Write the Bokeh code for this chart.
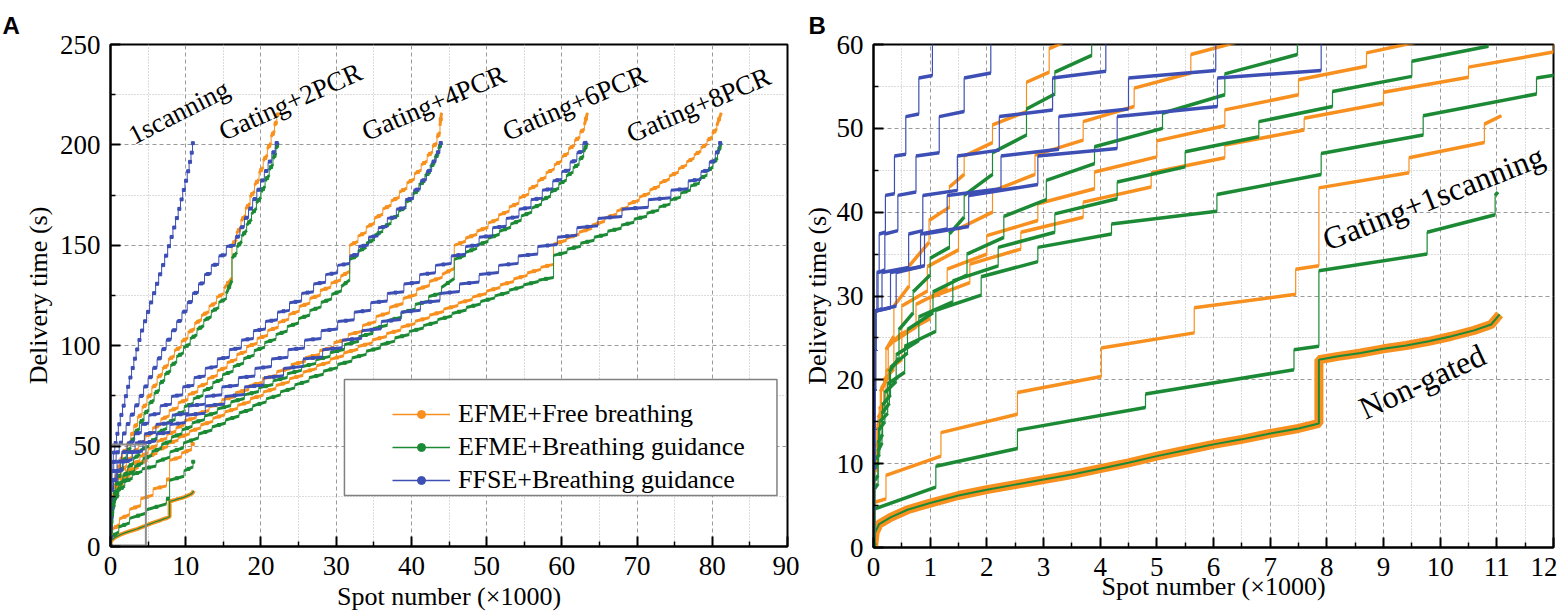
from bokeh.plotting import figure
from bokeh.models import FixedTicker, Label, Legend, LegendItem, BoxAnnotation, Title
from bokeh.layouts import row
from bokeh.embed import file_html
from bokeh.resources import INLINE

# ---------------- data (x: spot number x1000, y: delivery time s) ----------------
# each plateau: (x_start, x_end, y_start, y_end)

# Non-gated (continuous)
ng_x = [0, 0.03, 0.1, 0.3, 0.6, 1.0, 1.5, 2.0, 2.5, 3.0, 3.5, 4.0, 4.5, 5.0, 5.5, 6.0, 6.5, 7.0, 7.5,
        7.86, 7.86, 8.2, 8.6, 9.0, 9.4, 9.8, 10.2, 10.6, 10.9, 11.05]
ng_y = [0, 1.8, 2.8, 3.6, 4.5, 5.3, 6.2, 6.9, 7.5, 8.1, 8.7, 9.4, 10.1, 10.9, 11.6, 12.3, 12.9, 13.6, 14.2,
        14.8, 22.4, 22.8, 23.2, 23.7, 24.1, 24.6, 25.2, 25.9, 26.6, 27.8]

# Gating + 1 scanning
o1 = [(0.00, 0.02, 0.0, 0.3), (0.02, 0.22, 5.4, 5.8), (0.22, 1.19, 8.6, 10.9), (1.19, 2.54, 13.7, 15.9),
      (2.54, 4.02, 18.5, 20.4), (4.02, 5.66, 23.8, 25.6), (5.66, 7.45, 28.6, 30.2), (7.45, 7.86, 33.2, 33.6),
      (7.86, 9.45, 42.9, 44.7), (9.45, 10.78, 46.5, 48.3), (10.78, 11.08, 50.5, 51.5)]
g1 = [(0.00, 0.02, 0.0, 0.3), (0.02, 1.10, 4.6, 7.2), (1.10, 2.54, 9.7, 11.8), (2.54, 4.80, 14.0, 16.7),
      (4.80, 7.42, 18.3, 21.2), (7.42, 7.86, 23.6, 24.0), (7.86, 9.77, 33.0, 35.0), (9.77, 10.97, 37.6, 39.7),
      (10.97, 11.02, 42.0, 42.4)]

# FFSE common start
b0 = [(0.000, 0.008, 0.0, 0.1), (0.008, 0.015, 4.7, 4.8), (0.015, 0.022, 9.4, 9.5),
      (0.022, 0.029, 14.1, 14.2), (0.029, 0.036, 18.8, 18.9), (0.036, 0.040, 23.5, 23.6)]

# FFSE 1 scanning
b1 = [(0.04, 0.06, 28.2, 28.3), (0.06, 0.10, 32.8, 32.9), (0.10, 0.21, 37.4, 37.6), (0.21, 0.37, 42.0, 42.2),
      (0.37, 0.57, 46.7, 46.9), (0.57, 0.80, 51.4, 51.7), (0.80, 1.04, 56.0, 56.3), (1.04, 1.30, 60.7, 61.0),
      (1.30, 1.60, 65.4, 65.7), (1.60, 1.90, 70.0, 70.3), (1.90, 2.20, 74.7, 75.0), (2.20, 2.50, 79.4, 79.7),
      (2.50, 2.80, 84.0, 84.3), (2.80, 3.10, 88.7, 89.0), (3.10, 3.40, 93.4, 93.7), (3.40, 3.70, 98.0, 98.3),
      (3.70, 4.00, 102.7, 103.0), (4.00, 4.40, 107.4, 107.7), (4.40, 4.80, 112.0, 112.3), (4.80, 5.20, 116.7, 117.0),
      (5.20, 5.60, 121.4, 121.7), (5.60, 6.00, 126.0, 126.3), (6.00, 6.40, 130.7, 131.0), (6.40, 6.80, 135.4, 135.7),
      (6.80, 7.20, 140.0, 140.3), (7.20, 7.60, 144.7, 145.0), (7.60, 7.95, 149.4, 149.7), (7.95, 8.30, 154.0, 154.3),
      (8.30, 8.65, 158.7, 159.0), (8.65, 9.00, 163.4, 163.7), (9.00, 9.30, 168.0, 168.3), (9.30, 9.60, 172.7, 173.0),
      (9.60, 9.90, 177.4, 177.7), (9.90, 10.20, 182.0, 182.3), (10.20, 10.45, 186.7, 187.0), (10.45, 10.70, 191.4, 191.7),
      (10.70, 10.90, 196.0, 196.3), (10.90, 11.00, 200.7, 201.0)]

# Gating + 2PCR
o2 = [(0.00, 0.02, 0.0, 0.5), (0.02, 0.06, 9.0, 9.6), (0.06, 0.12, 14.0, 15.0), (0.12, 0.22, 18.6, 19.8),
      (0.22, 0.36, 23.6, 25.2), (0.36, 0.63, 28.8, 31.2), (0.63, 0.98, 33.6, 36.4), (0.98, 1.34, 39.0, 40.6),
      (1.34, 1.60, 43.0, 44.5), (1.60, 2.10, 46.7, 48.3), (2.10, 2.70, 50.4, 52.0), (2.70, 3.10, 55.5, 56.7),
      (3.10, 3.60, 59.5, 61.0), (3.60, 4.20, 64.0, 66.0), (4.20, 4.85, 69.0, 71.0), (4.85, 5.50, 74.0, 76.0),
      (5.50, 6.20, 79.0, 81.0), (6.20, 6.90, 84.0, 86.0), (6.90, 7.70, 88.5, 90.5), (7.70, 8.50, 93.0, 95.0),
      (8.50, 9.40, 97.5, 99.5), (9.40, 10.30, 102.0, 104.0), (10.30, 11.20, 106.5, 108.5), (11.20, 12.10, 111.0, 113.0),
      (12.10, 13.10, 115.0, 117.0), (13.10, 14.10, 119.5, 121.5), (14.10, 15.10, 124.0, 126.0), (15.10, 16.15, 128.5, 133.8),
      (16.15, 16.75, 150.0, 153.0), (16.75, 17.35, 156.0, 159.0), (17.35, 17.95, 162.0, 165.0), (17.95, 18.55, 168.0, 171.0),
      (18.55, 19.15, 174.0, 177.0), (19.15, 19.75, 180.0, 183.0), (19.75, 20.30, 186.0, 189.0), (20.30, 20.85, 192.0, 195.0),
      (20.85, 21.35, 198.0, 201.0), (21.35, 21.80, 204.0, 207.0), (21.80, 22.10, 209.5, 212.0), (22.10, 22.30, 214.0, 216.0)]
g2 = [(0.00, 0.02, 0.0, 0.5), (0.02, 0.08, 7.0, 7.6), (0.08, 0.15, 11.5, 12.5), (0.15, 0.28, 16.0, 17.2),
      (0.28, 0.45, 21.0, 22.6), (0.45, 0.70, 26.0, 28.0), (0.70, 1.00, 30.5, 32.5), (1.00, 1.34, 34.5, 35.8),
      (1.34, 1.60, 37.4, 39.4), (1.60, 2.10, 42.0, 44.5), (2.10, 2.70, 47.1, 49.2), (2.70, 3.20, 52.3, 54.1),
      (3.20, 3.85, 56.7, 58.7), (3.85, 4.45, 61.5, 63.5), (4.45, 5.10, 66.0, 68.0), (5.10, 5.80, 71.0, 73.0),
      (5.80, 6.50, 76.0, 78.0), (6.50, 7.20, 81.0, 83.0), (7.20, 8.00, 85.5, 87.5), (8.00, 8.80, 90.0, 92.0),
      (8.80, 9.70, 94.5, 96.5), (9.70, 10.60, 99.0, 101.0), (10.60, 11.50, 103.5, 105.5), (11.50, 12.40, 108.0, 110.0),
      (12.40, 13.40, 112.5, 114.5), (13.40, 14.40, 117.0, 119.0), (14.40, 15.40, 121.5, 123.5), (15.40, 16.15, 126.0, 132.5),
      (16.15, 16.80, 143.5, 146.5), (16.80, 17.45, 149.0, 152.0), (17.45, 18.10, 154.5, 157.5), (18.10, 18.75, 160.0, 163.0),
      (18.75, 19.40, 165.5, 168.5), (19.40, 20.00, 171.0, 174.0), (20.00, 20.55, 176.5, 179.5), (20.55, 21.10, 182.0, 185.0),
      (21.10, 21.60, 187.5, 190.5), (21.60, 22.00, 193.0, 196.0), (22.00, 22.30, 198.0, 201.0)]
b2 = [(0.04, 0.08, 28.2, 28.4), (0.08, 0.20, 32.8, 33.1), (0.20, 0.43, 37.4, 37.8), (0.43, 0.75, 42.0, 42.4),
      (0.75, 1.16, 46.7, 47.1), (1.16, 1.60, 51.4, 52.0), (1.60, 2.07, 56.0, 56.6), (2.07, 2.60, 60.7, 61.3),
      (2.60, 3.20, 65.4, 66.0), (3.20, 3.80, 70.0, 70.6), (3.80, 4.40, 74.7, 75.3), (4.40, 5.00, 79.4, 80.0),
      (5.00, 5.60, 84.0, 84.6), (5.60, 6.20, 88.7, 89.3), (6.20, 6.80, 93.4, 94.0), (6.80, 7.40, 98.0, 98.6),
      (7.40, 8.10, 102.7, 103.3), (8.10, 8.80, 107.4, 108.0), (8.80, 9.50, 112.0, 112.6), (9.50, 10.20, 116.7, 117.3),
      (10.20, 10.90, 121.4, 122.0), (10.90, 11.70, 126.0, 126.6), (11.70, 12.50, 130.7, 131.3), (12.50, 13.40, 135.4, 136.0),
      (13.40, 14.40, 140.0, 140.6), (14.40, 15.40, 144.7, 145.3), (15.40, 16.60, 149.4, 150.0), (16.60, 17.20, 154.0, 154.6),
      (17.20, 17.80, 158.7, 159.3), (17.80, 18.35, 163.4, 164.0), (18.35, 18.90, 168.0, 168.6), (18.90, 19.45, 172.7, 173.3),
      (19.45, 19.95, 177.4, 178.0), (19.95, 20.45, 182.0, 182.6), (20.45, 20.95, 186.7, 187.3), (20.95, 21.45, 191.4, 192.0),
      (21.45, 21.90, 196.0, 196.6), (21.90, 22.30, 200.7, 201.2)]

# Gating + 4PCR
o4 = [(0.00, 0.02, 0.0, 0.5), (0.02, 0.07, 10.0, 10.6), (0.07, 0.14, 14.5, 15.5), (0.14, 0.26, 19.0, 20.3),
      (0.26, 0.50, 24.0, 25.6), (0.50, 0.95, 28.8, 30.6), (0.95, 1.50, 33.5, 35.5), (1.50, 2.10, 38.0, 40.0),
      (2.10, 2.85, 42.5, 44.5), (2.85, 3.70, 46.8, 48.6), (3.70, 4.60, 50.8, 52.6), (4.60, 5.60, 54.8, 56.6),
      (5.60, 6.70, 58.8, 60.8), (6.70, 7.80, 63.3, 65.0), (7.80, 9.00, 67.5, 69.2), (9.00, 10.30, 71.5, 73.2),
      (10.30, 11.60, 75.5, 77.2), (11.60, 12.90, 79.5, 81.2), (12.90, 14.20, 83.5, 85.2), (14.20, 15.50, 87.5, 89.2),
      (15.50, 16.80, 91.5, 93.2), (16.80, 18.10, 95.5, 97.2), (18.10, 19.50, 99.5, 101.2), (19.50, 20.90, 103.5, 105.2),
      (20.90, 22.30, 107.5, 109.2), (22.30, 23.70, 111.5, 113.2), (23.70, 25.10, 115.5, 117.2), (25.10, 26.50, 119.5, 121.2),
      (26.50, 27.90, 123.5, 125.2), (27.90, 29.30, 127.5, 129.2), (29.30, 30.60, 131.0, 132.7), (30.60, 31.80, 134.5, 137.0),
      (31.80, 32.90, 150.0, 152.0), (32.90, 34.00, 154.5, 156.5), (34.00, 35.10, 159.0, 161.0), (35.10, 36.20, 163.5, 165.5),
      (36.20, 37.30, 168.0, 170.0), (37.30, 38.40, 172.0, 174.0), (38.40, 39.40, 176.5, 178.5), (39.40, 40.40, 181.0, 183.0),
      (40.40, 41.30, 185.5, 187.5), (41.30, 42.10, 190.0, 192.0), (42.10, 42.80, 194.5, 196.5), (42.80, 43.40, 199.0, 201.0),
      (43.40, 43.80, 203.5, 206.5), (43.80, 44.00, 209.5, 216.0)]
g4 = [(0.00, 0.02, 0.0, 0.5), (0.02, 0.08, 8.0, 8.6), (0.08, 0.16, 12.5, 13.5), (0.16, 0.30, 17.0, 18.2),
      (0.30, 0.60, 21.5, 23.2), (0.60, 1.05, 26.0, 28.0), (1.05, 1.65, 30.5, 32.5), (1.65, 2.30, 35.0, 37.0),
      (2.30, 3.05, 39.5, 41.5), (3.05, 3.90, 43.8, 45.8), (3.90, 5.10, 47.8, 50.0), (5.10, 6.20, 51.8, 54.0),
      (6.20, 7.48, 56.5, 58.8), (7.48, 8.60, 61.5, 63.3), (8.60, 9.80, 65.5, 67.3), (9.80, 11.00, 69.5, 71.3),
      (11.00, 12.30, 73.5, 75.3), (12.30, 13.60, 77.5, 79.3), (13.60, 14.90, 81.5, 83.3), (14.90, 16.30, 85.5, 87.3),
      (16.30, 17.70, 89.5, 91.3), (17.70, 19.10, 93.5, 95.3), (19.10, 20.50, 97.5, 99.3), (20.50, 22.00, 101.5, 103.3),
      (22.00, 23.50, 105.5, 107.3), (23.50, 25.00, 109.5, 111.3), (25.00, 26.50, 113.5, 115.3), (26.50, 28.00, 117.5, 119.3),
      (28.00, 29.40, 121.5, 123.3), (29.40, 30.70, 125.5, 127.3), (30.70, 31.80, 129.5, 132.8),
      (31.80, 32.90, 143.0, 145.0), (32.90, 34.00, 147.0, 149.0), (34.00, 35.10, 151.0, 153.0), (35.10, 36.20, 155.0, 157.0),
      (36.20, 37.30, 159.0, 161.0), (37.30, 38.30, 163.0, 165.0), (38.30, 39.30, 167.0, 169.0), (39.30, 40.20, 171.5, 173.5),
      (40.20, 41.00, 175.5, 177.5), (41.00, 41.80, 180.0, 182.0), (41.80, 42.50, 184.5, 186.5), (42.50, 43.10, 189.0, 191.0),
      (43.10, 43.60, 193.5, 195.5), (43.60, 44.00, 198.0, 201.0)]
b4 = [(0.04, 0.15, 28.2, 28.5), (0.15, 0.62, 32.8, 33.4), (0.62, 0.87, 37.4, 37.8), (0.87, 1.48, 42.0, 42.6),
      (1.48, 2.22, 46.7, 47.4), (2.22, 3.16, 51.4, 52.2), (3.16, 4.10, 56.0, 56.8), (4.10, 5.10, 60.7, 61.5),
      (5.10, 6.60, 65.4, 66.3), (6.60, 8.10, 70.0, 70.9), (8.10, 9.60, 74.7, 75.6), (9.60, 11.10, 79.4, 80.3),
      (11.10, 12.60, 84.0, 84.9), (12.60, 14.20, 88.7, 89.6), (14.20, 15.80, 93.4, 94.3), (15.80, 17.40, 98.0, 98.9),
      (17.40, 19.00, 102.7, 103.6), (19.00, 20.60, 107.4, 108.3), (20.60, 22.20, 112.0, 112.9), (22.20, 23.80, 116.7, 117.6),
      (23.80, 25.40, 121.4, 122.3), (25.40, 27.00, 126.0, 126.9), (27.00, 28.60, 130.7, 131.6), (28.60, 30.20, 135.4, 136.3),
      (30.20, 31.80, 140.0, 140.9), (31.80, 33.00, 144.7, 145.5), (33.00, 34.30, 149.4, 150.1), (34.30, 35.60, 154.0, 154.7),
      (35.60, 36.80, 158.7, 159.4), (36.80, 38.00, 163.4, 164.1), (38.00, 39.20, 168.0, 168.7), (39.20, 40.30, 172.7, 173.4),
      (40.30, 41.20, 177.4, 178.1), (41.20, 42.00, 182.0, 182.7), (42.00, 42.70, 186.7, 187.4), (42.70, 43.30, 191.4, 192.1),
      (43.30, 43.80, 196.0, 196.7), (43.80, 44.00, 200.7, 201.2)]

# Gating + 6PCR
o6 = [(0.00, 0.02, 0.0, 0.5), (0.02, 0.08, 11.0, 11.6), (0.08, 0.18, 15.5, 16.5), (0.18, 0.36, 20.0, 21.3),
      (0.36, 0.75, 24.6, 26.3), (0.75, 1.30, 29.0, 30.9), (1.30, 2.00, 33.2, 35.0), (2.00, 2.90, 37.2, 39.0),
      (2.90, 3.90, 41.0, 42.8), (3.90, 5.00, 44.8, 46.6), (5.00, 6.20, 48.5, 50.3), (6.20, 7.50, 52.2, 54.0),
      (7.50, 8.70, 55.8, 57.4), (8.70, 9.80, 59.0, 60.6), (9.80, 11.40, 62.5, 64.2), (11.40, 13.10, 66.0, 67.7),
      (13.10, 14.80, 69.5, 71.2), (14.80, 16.60, 73.0, 74.7), (16.60, 18.40, 76.5, 78.2), (18.40, 20.20, 80.0, 81.7),
      (20.20, 22.10, 83.5, 85.2), (22.10, 24.00, 87.0, 88.7), (24.00, 25.90, 90.5, 92.2), (25.90, 27.80, 94.0, 95.7),
      (27.80, 29.70, 97.5, 99.2), (29.70, 31.60, 101.5, 103.2), (31.60, 33.50, 105.5, 107.2), (33.50, 35.30, 110.0, 112.0),
      (35.30, 37.10, 114.5, 116.5), (37.10, 38.90, 119.0, 121.0), (38.90, 40.70, 123.5, 125.5), (40.70, 42.40, 128.0, 130.0),
      (42.40, 44.10, 132.0, 134.0), (44.10, 45.70, 135.5, 138.5),
      (45.70, 47.20, 150.0, 152.0), (47.20, 48.70, 153.5, 155.5), (48.70, 50.20, 157.0, 159.0), (50.20, 51.60, 161.0, 163.0),
      (51.60, 53.00, 165.0, 167.0), (53.00, 54.30, 169.0, 171.0), (54.30, 55.60, 173.5, 175.5), (55.60, 56.80, 178.0, 180.0),
      (56.80, 57.90, 182.0, 184.0), (57.90, 59.00, 186.0, 188.0), (59.00, 60.00, 190.0, 192.0), (60.00, 60.90, 194.0, 196.0),
      (60.90, 61.70, 198.0, 200.0), (61.70, 62.40, 202.0, 204.0), (62.40, 63.00, 206.0, 208.0), (63.00, 63.40, 210.0, 216.0)]
g6 = [(0.00, 0.02, 0.0, 0.5), (0.02, 0.09, 9.5, 10.1), (0.09, 0.20, 14.0, 15.0), (0.20, 0.40, 18.5, 19.8),
      (0.40, 0.80, 23.0, 24.7), (0.80, 1.40, 27.5, 29.3), (1.40, 2.20, 31.8, 33.6), (2.20, 3.20, 35.8, 37.6),
      (3.20, 4.30, 39.8, 41.6), (4.30, 5.50, 43.6, 45.4), (5.50, 6.80, 47.2, 49.0), (6.80, 8.10, 50.8, 52.6),
      (8.10, 9.50, 54.4, 56.2), (9.50, 10.85, 58.0, 59.8), (10.85, 12.50, 61.5, 63.2), (12.50, 14.20, 65.0, 66.7),
      (14.20, 16.00, 68.5, 70.2), (16.00, 17.80, 72.0, 73.7), (17.80, 19.70, 75.5, 77.2), (19.70, 21.60, 79.0, 80.7),
      (21.60, 23.50, 82.5, 84.2), (23.50, 25.40, 86.0, 87.7), (25.40, 27.30, 89.5, 91.2), (27.30, 29.20, 93.0, 94.7),
      (29.20, 31.10, 96.5, 98.2), (31.10, 33.00, 100.5, 102.2), (33.00, 34.90, 104.5, 106.2), (34.90, 36.80, 108.5, 110.2),
      (36.80, 38.70, 112.5, 114.2), (38.70, 40.50, 116.5, 118.2), (40.50, 42.30, 120.5, 122.2), (42.30, 44.00, 124.5, 126.2),
      (44.00, 45.70, 129.0, 133.5),
      (45.70, 47.20, 143.0, 145.0), (47.20, 48.70, 146.5, 148.5), (48.70, 50.20, 150.0, 152.0), (50.20, 51.70, 153.5, 155.5),
      (51.70, 53.20, 157.0, 159.0), (53.20, 54.60, 160.5, 162.5), (54.60, 56.00, 164.5, 166.5), (56.00, 57.30, 168.5, 170.5),
      (57.30, 58.50, 172.5, 174.5), (58.50, 59.60, 176.5, 178.5), (59.60, 60.60, 180.5, 182.5), (60.60, 61.50, 184.5, 186.5),
      (61.50, 62.30, 188.5, 190.5), (62.30, 62.90, 192.5, 194.5), (62.90, 63.40, 196.5, 201.0)]
b6 = [(0.04, 0.30, 28.2, 28.6), (0.30, 0.83, 32.8, 33.5), (0.83, 1.30, 37.4, 38.0), (1.30, 2.25, 42.0, 42.8),
      (2.25, 3.27, 46.7, 47.5), (3.27, 4.50, 51.4, 52.3), (4.50, 6.04, 56.0, 56.9), (6.04, 8.20, 60.7, 61.6),
      (8.20, 10.40, 65.4, 66.3), (10.40, 12.60, 70.0, 70.9), (12.60, 14.80, 74.7, 75.6), (14.80, 17.00, 79.4, 80.3),
      (17.00, 19.20, 84.0, 84.9), (19.20, 21.40, 88.7, 89.6), (21.40, 23.60, 93.4, 94.3), (23.60, 25.80, 98.0, 98.9),
      (25.80, 28.00, 102.7, 103.6), (28.00, 30.20, 107.4, 108.3), (30.20, 32.40, 112.0, 112.9), (32.40, 34.60, 116.7, 117.6),
      (34.60, 36.80, 121.4, 122.3), (36.80, 39.00, 126.0, 126.9), (39.00, 41.10, 130.7, 131.6), (41.10, 43.20, 135.4, 136.3),
      (43.20, 45.30, 140.0, 140.9), (45.30, 47.20, 144.7, 145.5), (47.20, 49.00, 149.4, 150.2), (49.00, 50.80, 154.0, 154.8),
      (50.80, 52.60, 158.7, 159.5), (52.60, 54.30, 163.4, 164.2), (54.30, 55.90, 168.0, 168.8), (55.90, 57.40, 172.7, 173.5),
      (57.40, 58.80, 177.4, 178.2), (58.80, 60.00, 182.0, 182.8), (60.00, 61.10, 186.7, 187.5), (61.10, 62.00, 191.4, 192.2),
      (62.00, 62.80, 196.0, 196.8), (62.80, 63.40, 200.7, 201.3)]

# Gating + 8PCR
o8 = [(0.00, 0.02, 0.0, 0.5), (0.02, 0.10, 12.0, 12.6), (0.10, 0.22, 16.5, 17.5), (0.22, 0.50, 21.0, 22.4),
      (0.50, 1.00, 25.5, 27.3), (1.00, 1.70, 29.8, 31.6), (1.70, 2.60, 33.8, 35.6), (2.60, 3.70, 37.6, 39.4),
      (3.70, 4.90, 41.2, 43.0), (4.90, 6.20, 44.7, 46.5), (6.20, 7.60, 48.0, 49.8), (7.60, 9.00, 51.2, 53.0),
      (9.00, 10.50, 54.3, 56.1), (10.50, 12.00, 57.3, 59.1), (12.00, 13.60, 60.5, 62.3), (13.60, 15.20, 63.8, 65.6),
      (15.20, 16.90, 67.0, 68.8), (16.90, 18.60, 70.3, 72.1), (18.60, 20.30, 73.6, 75.4), (20.30, 22.00, 76.9, 78.7),
      (22.00, 23.80, 80.2, 82.0), (23.80, 25.60, 83.5, 85.3), (25.60, 27.40, 86.8, 88.6), (27.40, 29.20, 90.0, 91.8),
      (29.20, 31.00, 93.2, 95.0), (31.00, 32.90, 96.4, 98.2), (32.90, 34.80, 99.6, 101.4), (34.80, 36.70, 102.8, 104.6),
      (36.70, 38.60, 106.0, 107.8), (38.60, 40.50, 109.2, 111.0), (40.50, 42.40, 112.2, 114.0), (42.40, 44.30, 115.2, 117.0),
      (44.30, 46.20, 118.2, 120.0), (46.20, 48.10, 121.2, 123.0), (48.10, 50.00, 124.2, 126.0), (50.00, 51.80, 127.2, 129.0),
      (51.80, 53.60, 130.2, 132.0), (53.60, 55.40, 133.2, 135.0), (55.40, 57.20, 136.2, 138.0), (57.20, 58.90, 139.0, 140.5),
      (58.90, 60.60, 150.5, 152.5), (60.60, 62.30, 153.5, 155.5), (62.30, 64.00, 156.5, 158.5), (64.00, 65.70, 160.0, 162.0),
      (65.70, 67.30, 163.5, 165.5), (67.30, 68.80, 167.0, 169.0), (68.80, 70.30, 170.5, 172.5), (70.30, 71.70, 174.0, 176.0),
      (71.70, 73.00, 177.5, 179.5), (73.00, 74.30, 181.0, 183.0), (74.30, 75.50, 184.5, 186.5), (75.50, 76.60, 188.0, 190.0),
      (76.60, 77.60, 191.5, 193.5), (77.60, 78.50, 195.0, 197.0), (78.50, 79.30, 198.5, 200.5), (79.30, 80.00, 202.0, 204.0),
      (80.00, 80.60, 205.5, 208.0), (80.60, 81.20, 209.5, 216.0)]
g8 = [(0.00, 0.02, 0.0, 0.5), (0.02, 0.11, 10.5, 11.1), (0.11, 0.25, 15.0, 16.0), (0.25, 0.55, 19.5, 20.9),
      (0.55, 1.10, 24.0, 25.8), (1.10, 1.90, 28.3, 30.1), (1.90, 2.90, 32.3, 34.1), (2.90, 4.20, 35.8, 37.4),
      (4.20, 6.06, 38.6, 40.1), (6.06, 7.90, 42.1, 44.5), (7.90, 9.70, 47.0, 49.2), (9.70, 11.70, 51.5, 54.1),
      (11.70, 13.50, 56.0, 58.0), (13.50, 15.30, 59.5, 61.5), (15.30, 17.10, 63.0, 65.0), (17.10, 18.90, 66.5, 68.5),
      (18.90, 20.70, 70.0, 72.0), (20.70, 22.60, 73.5, 75.5), (22.60, 24.50, 77.0, 79.0), (24.50, 26.40, 80.5, 82.5),
      (26.40, 28.30, 84.0, 85.8), (28.30, 30.20, 87.3, 89.1), (30.20, 32.10, 90.6, 92.4), (32.10, 34.00, 93.9, 95.7),
      (34.00, 35.90, 97.2, 99.0), (35.90, 37.80, 100.5, 102.3), (37.80, 39.70, 103.8, 105.6), (39.70, 41.60, 107.0, 108.8),
      (41.60, 43.50, 110.0, 111.8), (43.50, 45.40, 113.0, 114.8), (45.40, 47.30, 116.0, 117.8), (47.30, 49.20, 119.0, 120.8),
      (49.20, 51.10, 122.0, 123.8), (51.10, 53.00, 124.8, 126.6), (53.00, 54.90, 127.6, 129.4), (54.90, 56.90, 130.2, 132.0),
      (56.90, 58.90, 132.6, 134.0),
      (58.90, 60.70, 145.0, 146.5), (60.70, 62.50, 148.0, 149.5), (62.50, 64.30, 151.0, 152.5), (64.30, 66.10, 154.0, 155.5),
      (66.10, 67.90, 157.0, 158.5), (67.90, 69.60, 160.0, 161.5), (69.60, 71.30, 163.0, 164.5), (71.30, 72.90, 166.0, 167.5),
      (72.90, 74.40, 169.0, 170.5), (74.40, 75.80, 172.5, 174.0), (75.80, 77.10, 176.0, 177.5), (77.10, 78.30, 179.5, 181.0),
      (78.30, 79.30, 183.0, 185.0), (79.30, 80.10, 187.0, 189.0), (80.10, 80.70, 191.0, 193.5), (80.70, 81.20, 195.5, 201.0)]
b8 = [(0.04, 0.40, 28.2, 28.8), (0.40, 0.90, 32.8, 33.6), (0.90, 1.68, 37.4, 38.3), (1.68, 2.90, 42.0, 43.3),
      (2.90, 4.30, 46.7, 47.6), (4.30, 6.07, 51.4, 52.6), (6.07, 7.90, 56.0, 56.9), (7.90, 10.00, 60.7, 61.7),
      (10.00, 12.60, 65.4, 66.4), (12.60, 15.20, 70.0, 71.0), (15.20, 17.80, 74.7, 75.7), (17.80, 20.40, 79.4, 80.4),
      (20.40, 23.00, 84.0, 85.0), (23.00, 25.60, 88.7, 89.7), (25.60, 28.20, 93.4, 94.4), (28.20, 30.80, 98.0, 99.0),
      (30.80, 33.40, 102.7, 103.7), (33.40, 36.00, 107.4, 108.4), (36.00, 38.60, 112.0, 113.0), (38.60, 41.20, 116.7, 117.7),
      (41.20, 43.80, 121.4, 122.4), (43.80, 46.40, 126.0, 127.0), (46.40, 49.00, 130.7, 131.7), (49.00, 51.60, 135.4, 136.4),
      (51.60, 54.20, 140.0, 141.0), (54.20, 56.80, 144.7, 145.7), (56.80, 59.40, 149.4, 150.4), (59.40, 62.00, 154.0, 155.0),
      (62.00, 64.80, 158.7, 159.7), (64.80, 68.00, 163.4, 164.4), (68.00, 71.50, 168.0, 169.0), (71.50, 74.50, 172.7, 173.7),
      (74.50, 76.80, 177.4, 178.2), (76.80, 78.50, 182.0, 182.8), (78.50, 79.60, 186.7, 187.4), (79.60, 80.40, 191.4, 192.0),
      (80.40, 80.90, 196.0, 196.6), (80.90, 81.20, 200.7, 201.2)]

orange_curves = [o1, o2, o4, o6, o8]
green_curves = [g1, g2, g4, g6, g8]
blue_curves = [b1, b2, b4, b6, b8]

zoom_x = [0.0, 4.7]
zoom_y = [0.5, 50.8]

legend_labels = ["EFME+Free breathing", "EFME+Breathing guidance", "FFSE+Breathing guidance"]

ORANGE = "#f7901e"
GREEN = "#1c8a35"
BLUE = "#3d4fb4"
SERIF = "Liberation Serif"
NAN = float("nan")


def draw(p, plats, color, thick, thin, prefix=None, marker=0):
    allp = (prefix or []) + plats
    xs, ys = [], []
    for x0, x1, y0, y1 in allp:
        xs += [x0, x1]
        ys += [y0, y1]
    p.line(xs, ys, line_color=color, line_width=thin)
    p.segment(x0=[q[0] for q in allp], x1=[q[1] for q in allp],
              y0=[q[2] for q in allp], y1=[q[3] for q in allp],
              line_color=color, line_width=thick)
    if marker:
        p.scatter([(q[0] + q[1]) / 2 for q in allp], [(q[2] + q[3]) / 2 for q in allp],
                  marker="square", size=marker, fill_color=color, line_color=color)


def style(p, xt, xm, yt, ym):
    p.xaxis.ticker = FixedTicker(ticks=xt, minor_ticks=xm)
    p.yaxis.ticker = FixedTicker(ticks=yt, minor_ticks=ym)
    for ax in (p.xaxis[0], p.yaxis[0]):
        ax.axis_line_width = 2
        ax.axis_line_color = "black"
        ax.major_tick_in = 10
        ax.major_tick_out = 0
        ax.minor_tick_in = 5
        ax.minor_tick_out = 0
        ax.major_tick_line_width = 2
        ax.minor_tick_line_width = 1.5
        ax.major_tick_line_color = "black"
        ax.minor_tick_line_color = "black"
        ax.major_label_text_font = SERIF
        ax.major_label_text_font_size = "27px"
        ax.major_label_text_color = "black"
        ax.major_label_standoff = 10
        ax.axis_label_text_font = SERIF
        ax.axis_label_text_font_size = "26px"
        ax.axis_label_text_font_style = "normal"
        ax.axis_label_text_color = "black"
    for g in (p.xgrid[0], p.ygrid[0]):
        g.grid_line_color = "#9a9a9a"
        g.grid_line_dash = "4 3"
        g.grid_line_width = 1
        g.minor_grid_line_color = "#b8b8b8"
        g.minor_grid_line_dash = "1 2"
        g.minor_grid_line_width = 1
    p.outline_line_color = "black"
    p.outline_line_width = 2
    p.outline_line_alpha = 1
    p.background_fill_color = "white"
    p.border_fill_color = "white"


def panel_title(p, letter, offset):
    p.add_layout(Title(text=letter, align="left", offset=offset, text_font="Liberation Sans",
                       text_font_style="bold", text_font_size="24px", text_color="black",
                       standoff=12), "above")


# ---------------- panel A ----------------
pa = figure(x_range=(0, 90), y_range=(0, 250), frame_width=677, frame_height=502,
            min_border_left=110, min_border_right=12, min_border_top=44, min_border_bottom=62,
            output_backend="svg", toolbar_location=None)
style(pa, list(range(0, 91, 10)), list(range(5, 90, 10)), list(range(0, 251, 50)), list(range(25, 250, 50)))
pa.xaxis.axis_label = "Spot number (×1000)"
pa.yaxis.axis_label = "Delivery time (s)"
pa.xaxis.axis_label_standoff = 4
pa.yaxis.axis_label_standoff = 4
panel_title(pa, "A", -108)

pa.line(ng_x, ng_y, line_color=ORANGE, line_width=4)
pa.line(ng_x, ng_y, line_color=GREEN, line_width=1.2)
for c in orange_curves:
    draw(pa, c, ORANGE, 3, 1, marker=3)
for c in green_curves:
    draw(pa, c, GREEN, 3, 1, marker=3)
for c in blue_curves:
    draw(pa, c, BLUE, 3, 1, prefix=b0, marker=3)

pa.quad(left=[zoom_x[0]], right=[zoom_x[1]], bottom=[zoom_y[0]], top=[zoom_y[1]],
        fill_alpha=0, line_color="#8c8c8c", line_width=2)

for txt, x, y, ang in [("1scanning", 2.6, 204, 27), ("Gating+2PCR", 14.6, 206, 24),
                       ("Gating+4PCR", 33.6, 206, 23), ("Gating+6PCR", 52.3, 206, 23),
                       ("Gating+8PCR", 68.8, 205, 23)]:
    pa.add_layout(Label(x=x, y=y, text=txt, angle=ang, angle_units="deg", text_font=SERIF,
                        text_font_size="27px", text_baseline="alphabetic", text_align="left",
                        text_color="black"))

pa.add_layout(BoxAnnotation(left=31.1, right=88.6, bottom=25.4, top=83.2, fill_color="white",
                            fill_alpha=1, line_color="#808080", line_width=1.5, line_alpha=1))
items = []
for lab, col in zip(legend_labels, [ORANGE, GREEN, BLUE]):
    rl = pa.line([NAN], [NAN], line_color=col, line_width=1.5)
    rs = pa.scatter([NAN], [NAN], marker="circle", size=2.5, fill_color=col, line_color=col)
    items.append(LegendItem(label=lab, renderers=[rl, rs]))
leg = Legend(items=items, location=(282, 50), padding=0, spacing=0, margin=0, label_height=33,
             glyph_width=58, glyph_height=20, label_standoff=8, label_text_font=SERIF,
             label_text_font_size="26px", label_text_color="black", border_line_alpha=0,
             background_fill_alpha=0)
pa.add_layout(leg)

# ---------------- panel B ----------------
pb = figure(x_range=(0, 12), y_range=(0, 60), frame_width=680, frame_height=503,
            min_border_left=71, min_border_right=4, min_border_top=44, min_border_bottom=62,
            output_backend="svg", toolbar_location=None)
style(pb, list(range(0, 13)), [i + 0.5 for i in range(12)], list(range(0, 61, 10)), list(range(5, 60, 10)))
pb.xaxis.axis_label = "Spot number (×1000)"
pb.yaxis.axis_label = "Delivery time (s)"
pb.xaxis.axis_label_standoff = -7
pb.yaxis.axis_label_standoff = 2
panel_title(pb, "B", -65)

pb.line(ng_x, ng_y, line_color=ORANGE, line_width=9)
pb.line(ng_x, ng_y, line_color=GREEN, line_width=2)
for c in orange_curves:
    draw(pb, c, ORANGE, 3.5, 1.2)
for c in green_curves:
    draw(pb, c, GREEN, 3.5, 1.2)
for c in blue_curves:
    draw(pb, c, BLUE, 3.5, 1.2, prefix=b0)

pb.add_layout(Label(x=7.95, y=36.6, text="Gating+1scanning", angle=21.5, angle_units="deg", text_font=SERIF,
                    text_font_size="32px", text_baseline="alphabetic", text_color="black"))
pb.add_layout(Label(x=8.6, y=16.4, text="Non-gated", angle=25, angle_units="deg", text_font=SERIF,
                    text_font_size="32px", text_baseline="alphabetic", text_color="black"))

layout = row(pa, pb)
open("out.html", "w").write(file_html(layout, INLINE))
